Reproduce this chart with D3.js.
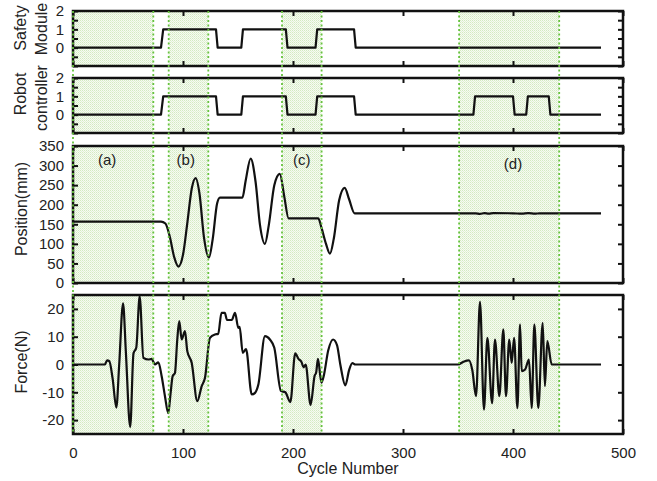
<!DOCTYPE html>
<html>
<head>
<meta charset="utf-8">
<script src="https://cdn.jsdelivr.net/npm/d3@7"></script>
<style>
  body { margin: 0; background: #fff; }
  text { font-family: "Liberation Sans", Arial, sans-serif; fill: #222; }
</style>
</head>
<body>
<div id="chart"></div>
<script>
// shaded cycle ranges (a)-(d)
const regions = [[0, 73], [87, 123], [190, 226], [351, 442]];
const regionLabels = ["(a)", "(b)", "(c)", "(d)"];
const labelCycles = [31, 102.5, 208, 400];
const labelPos = [302, 302, 302, 292];

// step signals: [cycle, state]
const safetySignal = [[0, 0], [80, 0], [82, 1], [130, 1], [131.5, 0], [153, 0], [154.5, 1], [193.5, 1], [195, 0], [220.5, 0], [222, 1], [255.5, 1], [257, 0], [480, 0]];
const robotSignal = [[0, 0], [80, 0], [82, 1], [130, 1], [131.5, 0], [153, 0], [154.5, 1], [193.5, 1], [195, 0], [220.5, 0], [222, 1], [255.5, 1], [257, 0], [364, 0], [365.5, 1], [400, 1], [401.5, 0], [412, 0], [413.5, 1], [432.5, 1], [434, 0], [480, 0]];

// position (mm)
const positionData = [[0, 157], [80, 157], [84, 152], [88, 118], [92, 66], [95.8, 42], [100, 72], [104, 155], [108, 242], [111.5, 268], [115, 228], [119, 118], [123.6, 65], [127, 112], [131, 203], [133.6, 218], [154, 218], [157, 262], [161.5, 318], [166, 258], [170, 148], [174.5, 100], [178, 148], [183, 250], [188, 279], [192, 222], [196, 165], [223, 165], [226, 140], [230, 100], [233.6, 75], [237, 112], [242, 212], [247, 243], [251, 214], [256, 178], [366, 178], [370, 176.5], [374, 178.5], [378, 177], [382, 178.5], [400, 178], [408, 177], [414, 178.5], [420, 177], [424, 178], [480, 178]];

// force (N)
const forceData = [[0, 0], [29, 0], [31, 1.5], [33, 1.2], [36, -5], [39.4, -15.5], [42, 0], [45.5, 22], [48, 5], [52, -22.5], [55, 4], [57.5, 6], [60.6, 24.5], [64, 2.4], [68.5, 1.8], [71.5, 2], [74.5, 0], [77.6, 0.8], [80.6, -4.2], [83.6, -11.4], [86.6, -17.5], [88.8, -10], [90.6, -4.2], [92.7, -3], [94.8, 9], [96.6, 15.6], [98.8, 9], [101.8, 12], [103.9, 4.8], [107.9, 0.6], [113, -13.2], [117, -7.8], [120, -4.8], [124.5, 9.6], [129, 10.8], [132, 11], [135, 18.6], [138, 18.6], [140, 16], [144.3, 16], [147.3, 18.6], [150.3, 13.2], [151.5, 13.5], [154.3, 4.2], [157.3, 5.5], [162.5, -10.8], [165.5, -10.2], [168.5, -7.2], [174.5, 10.2], [179, 9], [183, 6], [189, -9.5], [193, -10], [197.6, -13.5], [202, 4], [205, 2], [207.6, 1], [209.7, -1], [211.5, 0], [216, -14.5], [219.7, -4], [221, -3], [222.7, 2], [225.8, -6.5], [228, -4], [232, 5], [236.4, 9], [240, 7], [243, 0], [247.6, -7.5], [251, -2], [254, 0.5], [256.7, 0], [350, 0], [355, 1], [360, 1.5], [363, -2], [366.4, -11.4], [370, 22.5], [373.6, -16.2], [376.7, 9.6], [381, -13.9], [383.6, 9], [387.6, -11.4], [391.2, 12.6], [393.6, -11.4], [396.6, 9], [398.8, 0.6], [401, 9.6], [404, -15.7], [406.4, 14.4], [407.9, -2.4], [411, -1.8], [414.5, 1.8], [417, -15.7], [419.4, 14.4], [423, -15.7], [427, 15], [429, -7.8], [431.2, 8.4], [435.2, 0], [480, 0]];

const stateTicks = [-1, -0.5, 0, 0.5, 1, 1.5, 2];
const stateLabels = [0, 1, 2];
const positionTicks = [0, 50, 100, 150, 200, 250, 300, 350];
const forceTicks = [-20, -10, 0, 10, 20];
const cycleTicks = [0, 100, 200, 300, 400, 500];

const width = 657, height = 481;
const svg = d3.select("#chart").append("svg")
    .attr("width", width)
    .attr("height", height);

// light green dotted fill
const pat = svg.append("defs").append("pattern")
    .attr("id", "dots")
    .attr("width", 2).attr("height", 2)
    .attr("patternUnits", "userSpaceOnUse");
pat.append("rect").attr("width", 2).attr("height", 2).attr("fill", "#f6fbf2");
pat.append("rect").attr("width", 1).attr("height", 1).attr("fill", "#d3eac2");
pat.append("rect").attr("x", 1).attr("y", 1).attr("width", 1).attr("height", 1).attr("fill", "#e2f1d6");

const x = d3.scaleLinear().domain([0, 500]).range([73, 623]);

const panels = [
    { top: 11, bottom: 66, domain: [-1, 2], ticks: stateTicks, labels: stateLabels, data: safetySignal, title: ["Safety", "Module"], titleY: [28, 29] },
    { top: 78, bottom: 133, domain: [-1, 2], ticks: stateTicks, labels: stateLabels, data: robotSignal, title: ["Robot", "controller"], titleY: [94, 98] },
    { top: 146, bottom: 283, domain: [0, 350], ticks: positionTicks, labels: positionTicks, data: positionData, title: ["Position(mm)"], titleY: [209], smooth: true },
    { top: 295, bottom: 434, domain: [-25, 25], ticks: forceTicks, labels: forceTicks, data: forceData, title: ["Force(N)"], titleY: [362], smooth: true }
];

panels.forEach((p, i) => {
    const y = d3.scaleLinear().domain(p.domain).range([p.bottom, p.top]);
    const g = svg.append("g");

    // shading
    g.selectAll("rect.shade")
        .data(regions)
        .join("rect")
        .attr("class", "shade")
        .attr("x", d => x(d[0]))
        .attr("width", d => x(d[1]) - x(d[0]))
        .attr("y", p.top)
        .attr("height", p.bottom - p.top)
        .attr("fill", "url(#dots)");

    // left / right ticks
    const left = g.append("g")
        .attr("transform", `translate(${x(0)},0)`)
        .call(d3.axisLeft(y).tickValues(p.ticks).tickSizeInner(-5).tickSizeOuter(0).tickPadding(9)
            .tickFormat(d => p.labels.includes(d) ? d : ""));
    const right = g.append("g")
        .attr("transform", `translate(${x(500)},0)`)
        .call(d3.axisRight(y).tickValues(p.ticks).tickSizeInner(-5).tickSizeOuter(0).tickFormat(""));

    // top / bottom ticks
    const top = g.append("g")
        .attr("transform", `translate(0,${p.top})`)
        .call(d3.axisTop(x).tickValues(cycleTicks).tickSizeInner(-5).tickSizeOuter(0).tickFormat(""));
    const bottom = g.append("g")
        .attr("transform", `translate(0,${p.bottom})`)
        .call(d3.axisBottom(x).tickValues(cycleTicks).tickSizeInner(-5).tickSizeOuter(0).tickPadding(13)
            .tickFormat(i === 3 ? d => d : ""));

    [left, right, top, bottom].forEach(a => {
        a.select(".domain").remove();
        a.selectAll("line").attr("stroke", "#111").attr("stroke-width", 2);
        a.selectAll("text").style("font-size", "15px").attr("fill", "#222");
    });

    // data line
    g.append("path")
        .datum(p.data)
        .attr("fill", "none")
        .attr("stroke", "#111")
        .attr("stroke-width", 2.2)
        .attr("stroke-linejoin", "round")
        .attr("d", d3.line()
            .x(d => x(d[0]))
            .y(d => y(d[1]))
            .curve(p.smooth ? d3.curveMonotoneX : d3.curveLinear));

    // frame
    g.append("rect")
        .attr("x", x(0)).attr("y", p.top)
        .attr("width", x(500) - x(0))
        .attr("height", p.bottom - p.top)
        .attr("fill", "none")
        .attr("stroke", "#111")
        .attr("stroke-width", 2.5);

    // y title
    const bases = p.title.length === 2 ? [26, 47] : [27];
    p.title.forEach((t, k) => {
        g.append("text")
            .attr("transform", `translate(${bases[k]},${p.titleY[k]}) rotate(-90)`)
            .attr("text-anchor", "middle")
            .style("font-size", "16px")
            .text(t);
    });

    if (i === 2) {
        g.selectAll("text.lab")
            .data(regionLabels)
            .join("text")
            .attr("class", "lab")
            .attr("x", (d, k) => x(labelCycles[k]))
            .attr("y", (d, k) => y(labelPos[k]))
            .attr("text-anchor", "middle")
            .style("font-size", "15px")
            .attr("fill", "#333")
            .text(d => d);
    }
});

// dashed region boundaries across all panels
const bounds = regions.flat();
svg.selectAll("line.bound")
    .data(bounds)
    .join("line")
    .attr("class", "bound")
    .attr("x1", d => x(d)).attr("x2", d => x(d))
    .attr("y1", 11).attr("y2", 434)
    .attr("stroke", "#66c23e")
    .attr("stroke-width", 1.8)
    .attr("stroke-dasharray", "2,2.5");

svg.append("text")
    .attr("x", x(250))
    .attr("y", 474)
    .attr("text-anchor", "middle")
    .style("font-size", "16px")
    .text("Cycle Number");
</script>
</body>
</html>
